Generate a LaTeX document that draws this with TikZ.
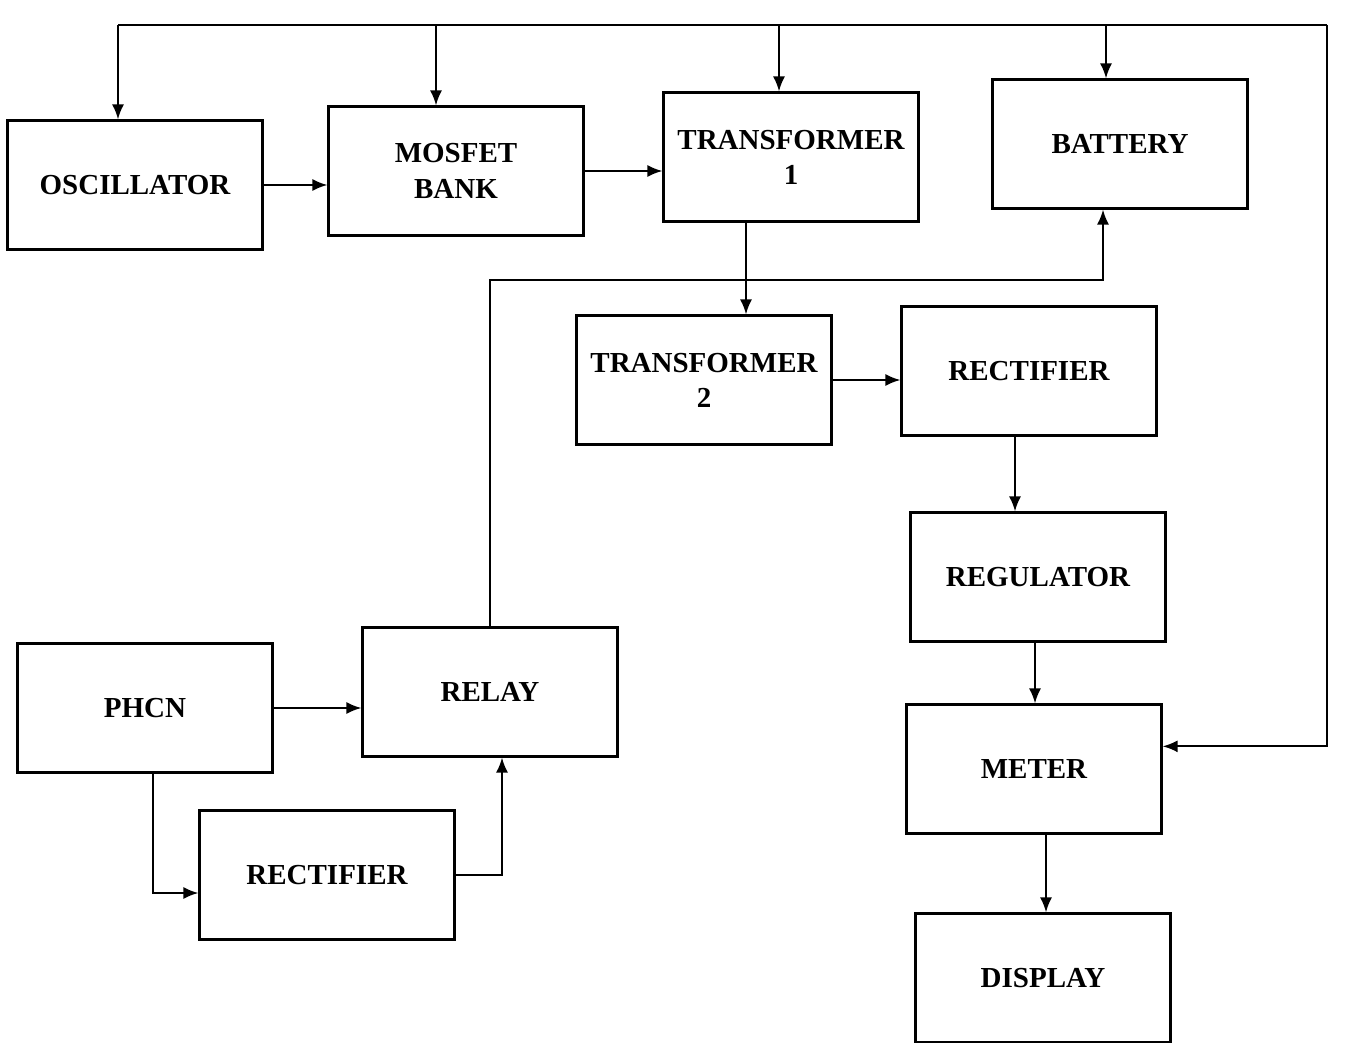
\documentclass[tikz,border=0pt]{standalone}
\usepackage{fontspec}
\setmainfont{Liberation Serif}
\usetikzlibrary{arrows.meta,positioning}
\tikzset{box/.style={draw,line width=1.2pt,align=center,minimum width=5.1cm,
  minimum height=2.58cm,font=\fontsize{16.5}{20}\selectfont\bfseries},
  flow/.style={-{Latex[length=3mm,width=2.4mm]},line width=1.2pt},
  wire/.style={line width=1.2pt}}
\begin{document}
\begin{tikzpicture}[x=0.02cm,y=-0.02cm]
\useasboundingbox (0,0) rectangle (1362,1043);
\node[box] (osc) at (135,185) {OSCILLATOR};
\node[box] (mosfet) at (456,171) {MOSFET\\BANK};
\node[box] (tfa) at (791,157) {TRANSFORMER\\1};
\node[box] (battery) at (1120,144) {BATTERY};
\node[box] (tfb) at (704,380) {TRANSFORMER\\2};
\node[box] (recta) at (1029,371) {RECTIFIER};
\node[box] (reg) at (1038,577) {REGULATOR};
\node[box] (meter) at (1034,769) {METER};
\node[box] (display) at (1043,978) {DISPLAY};
\node[box] (phcn) at (145,708) {PHCN};
\node[box] (relay) at (490,692) {RELAY};
\node[box] (rectb) at (327,875) {RECTIFIER};
% supply bus along the top
\coordinate (busl) at (118,25);
\coordinate (busm) at (436,25);
\coordinate (bust) at (779,25);
\coordinate (busb) at (1106,25);
\coordinate (busr) at (1327,25);
\draw[wire] (busl) -- (busr);
\draw[flow] (busr) |- (meter.10);
\draw[flow] (busl) -- (osc.north -| busl);
\draw[flow] (busm) -- (mosfet.north -| busm);
\draw[flow] (bust) -- (tfa.north -| bust);
\draw[flow] (busb) -- (battery.north -| busb);
% main chain
\draw[flow] (osc.east) -- (mosfet.west |- osc.east);
\draw[flow] (mosfet.east) -- (tfa.west |- mosfet.east);
\coordinate (tt) at (746,0);
\draw[flow] (tfa.south -| tt) -- (tfb.north -| tt);
\draw[flow] (tfb.east) -- (recta.west |- tfb.east);
\coordinate (dc1) at (1015,0);
\coordinate (dc2) at (1035,0);
\coordinate (dc3) at (1046,0);
\draw[flow] (recta.south -| dc1) -- (reg.north -| dc1);
\draw[flow] (reg.south -| dc2) -- (meter.north -| dc2);
\draw[flow] (meter.south -| dc3) -- (display.north -| dc3);
% mains side
\draw[flow] (phcn.east) -- (relay.west |- phcn.east);
\coordinate (pr) at (153,893);
\draw[flow] (phcn.south -| pr) -- (pr) -- (rectb.west |- pr);
\coordinate (rr) at (502,875);
\draw[flow] (rectb.east) -| (relay.south -| rr);
\coordinate (rb) at (1103,280);
\draw[flow] (relay.north) |- (rb) -- (battery.south -| rb);
\end{tikzpicture}
\end{document}
